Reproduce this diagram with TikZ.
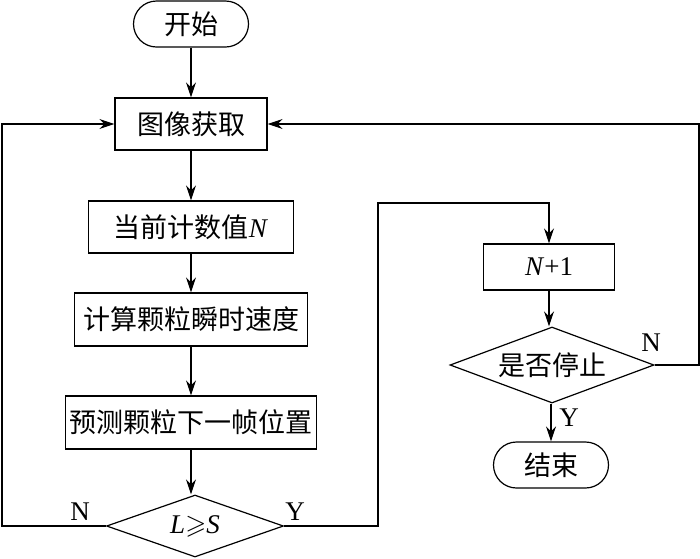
\documentclass[tikz,border=0pt]{standalone}
\usepackage{amssymb}
\usepackage{fontspec}
\setmainfont{Liberation Serif}
\newfontfamily\cjk{Noto Sans CJK SC}
\usetikzlibrary{shapes.geometric,arrows.meta}
\begin{document}
\begin{tikzpicture}[x=1pt,y=-1pt,
  every node/.style={font=\fontsize{27}{32}\selectfont},
  box/.style={draw,line width=1.2pt,rectangle,inner sep=0pt},
  term/.style={draw,line width=1.2pt,rectangle,rounded corners=23pt,inner sep=0pt,minimum width=115pt,minimum height=46pt},
  dec/.style={draw,line width=1.2pt,diamond,inner sep=0pt},
  arr/.style={line width=1.2pt,-{Stealth[length=15pt,width=10pt,inset=5pt]}},
  ln/.style={line width=1.2pt},
  lab/.style={inner sep=0pt}]
\useasboundingbox (0,0) rectangle (700,558);
\node[term] (start) at (191,24) {\cjk 开始};
\node[box,minimum width=152pt,minimum height=52pt] (img) at (191,124) {\cjk 图像获取};
\node[box,minimum width=205pt,minimum height=52pt] (cnt) at (191,227) {{\cjk 当前计数值}\textit{N}};
\node[box,minimum width=233pt,minimum height=53pt] (spd) at (191,319.5) {\cjk 计算颗粒瞬时速度};
\node[box,minimum width=251pt,minimum height=53pt] (pred) at (191,422.5) {\cjk 预测颗粒下一帧位置};
\node[dec,minimum width=177pt,minimum height=62pt,aspect=2.85] (d1) at (195,526) {\textit{L}$\geqslant$\textit{S}};
\node[box,minimum width=131pt,minimum height=46pt] (n1) at (549,267) {\textit{N}+1};
\node[dec,minimum width=204pt,minimum height=76pt,aspect=2.68] (d2) at (552,365) {\cjk 是否停止};
\node[term] (end) at (551,465) {\cjk 结束};
\coordinate (lx) at (2,0);
\coordinate (rx) at (699,0);
\coordinate (yc) at (378,203);
\draw[arr] (start) -- (img);
\draw[arr] (img) -- (cnt);
\draw[arr] (cnt) -- (spd);
\draw[arr] (spd) -- (pred);
\draw[arr] (pred) -- (pred.south |- d1.north);
\draw[arr] (d1.west) -- (d1.west -| lx) |- (img.west);
\draw[arr] (d1.east) -| (yc) -| (n1.north);
\draw[arr] (n1) -- (n1.south |- d2.north);
\draw[arr] (d2.south -| end.north) -- (end.north);
\draw[arr] (d2.east) -- (d2.east -| rx) |- (img.east);
\node[lab] (nl) at (80,512) {N};
\node[lab] (yl) at (295,512) {Y};
\node[lab] (nr) at (651,343) {N};
\node[lab] (yr) at (569,418) {Y};
\end{tikzpicture}
\end{document}
